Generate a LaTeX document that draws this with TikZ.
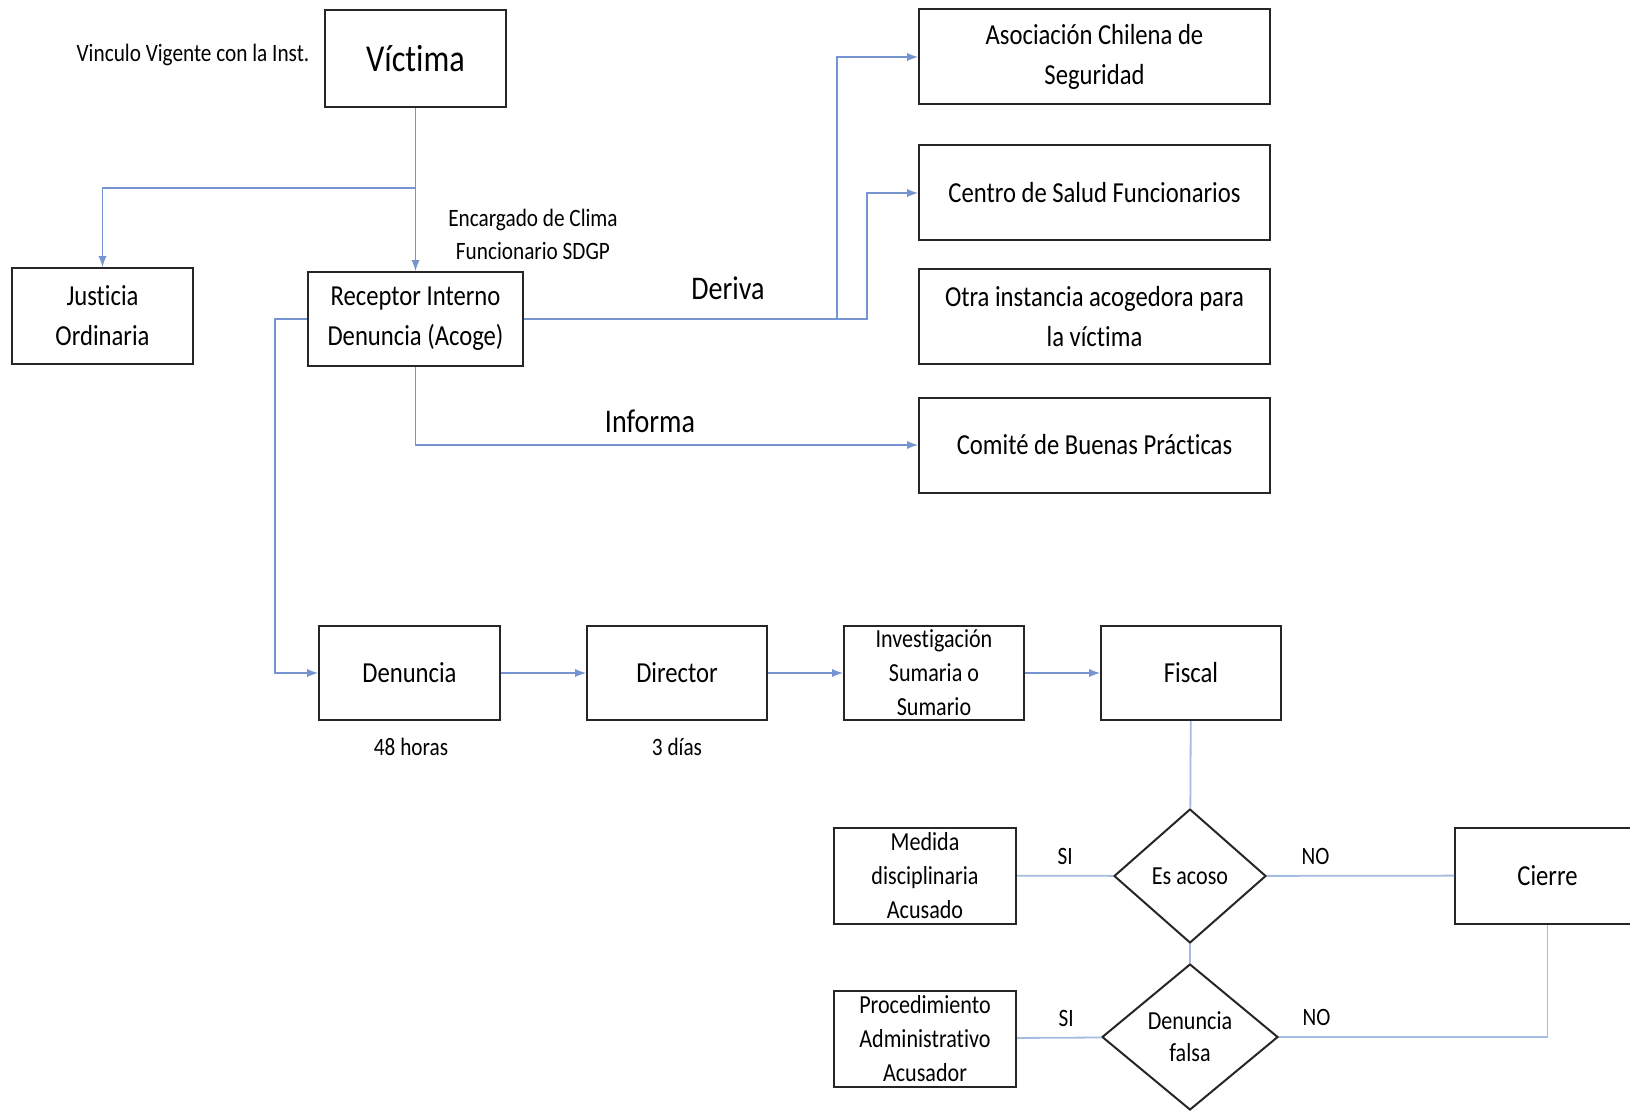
\documentclass[tikz,border=0pt]{standalone}
\usepackage{fontspec}
\setmainfont{Carlito}[FakeStretch=0.85, Ligatures=NoCommon]
\usetikzlibrary{arrows,shapes.geometric}
\definecolor{flujo}{RGB}{118,148,208}
\definecolor{flujoclaro}{RGB}{165,188,226}

\begin{document}
\begin{tikzpicture}[x=0.5pt, y=-0.5pt,
	caja/.style={draw=black!85, line width=1pt, align=center, inner sep=0pt, font=\fontsize{14.5}{20}\selectfont},
	chica/.style={caja, minimum width=91pt, minimum height=48pt, font=\fontsize{13}{17}\selectfont},
	ancha/.style={caja, minimum width=175.5pt, minimum height=47.5pt},
	rombo/.style={diamond, draw=black!85, line width=1pt, align=center, inner sep=0pt, font=\fontsize{13}{16}\selectfont},
	flecha/.style={draw=flujo, line width=0.9pt, -latex},
	linea/.style={draw=flujoclaro, line width=0.9pt},
	etiqueta/.style={font=\fontsize{12.5}{16.5}\selectfont, inner sep=1pt}]
	\clip (0,0) rectangle (1630,1113);
	% parte superior
	\node [caja, minimum width=90.5pt, minimum height=48.5pt, font=\fontsize{19}{22}\selectfont] (victima) at (415.5,58.5) {Víctima};
	\node [etiqueta] (vinculo) at (193,55) {Vinculo Vigente con la Inst.};
	\node [caja, minimum width=90.5pt, minimum height=48pt] (justicia) at (102.5,316) {Justicia\\Ordinaria};
	\node [caja, minimum width=107.5pt, minimum height=47pt] (receptor) at (415.5,319) {Receptor Interno\\Denuncia (Acoge)};
	\node [etiqueta, align=center] (encargado) at (533,234) {Encargado de Clima\\Funcionario SDGP};
	\node [ancha] (asociacion) at (1094.5,57) {Asociación Chilena de\\Seguridad};
	\node [ancha] (centro) at (1094.5,193) {Centro de Salud Funcionarios};
	\node [ancha] (otra) at (1094.5,316.5) {Otra instancia acogedora para\\la víctima};
	\node [ancha] (comite) at (1094.5,445) {Comité de Buenas Prácticas};
	\node [font=\fontsize{16.5}{20}\selectfont] (deriva) at (728,288) {Deriva};
	\node [font=\fontsize{16.5}{20}\selectfont] (informa) at (650,421) {Informa};
	% fila del sumario
	\node [caja, minimum width=90.5pt, minimum height=47pt] (denuncia) at (409.5,673) {Denuncia};
	\node [caja, minimum width=90pt, minimum height=47pt] (director) at (677,673) {Director};
	\node [caja, minimum width=90pt, minimum height=47pt, font=\fontsize{13}{17}\selectfont] (investigacion) at (934,673) {Investigación\\Sumaria o\\Sumario};
	\node [caja, minimum width=90pt, minimum height=47pt] (fiscal) at (1191,673) {Fiscal};
	\node [etiqueta] (horas) at (411,747) {48 horas};
	\node [etiqueta] (dias) at (677,747) {3 días};
	% decisiones
	\node [rombo, minimum width=76pt, minimum height=67pt] (acoso) at (1190,876) {Es acoso};
	\node [rombo, minimum width=88pt, minimum height=73pt] (falsa) at (1190,1037) {Denuncia\\falsa};
	\node [chica] (medida) at (925,875.5) {Medida\\disciplinaria\\Acusado};
	\node [chica] (procedimiento) at (925,1038.5) {Procedimiento\\Administrativo\\Acusador};
	\node [caja, minimum width=92.5pt, minimum height=48pt] (cierre) at (1547.5,875.5) {Cierre};
	% conectores
	\coordinate (rama) at (415.5,188);
	\coordinate (codo) at (867,319);
	\coordinate (rama2) at (837,319);
	\coordinate (izq) at (275,319);
	\draw [flecha] (victima) -- (receptor);
	\draw [flecha] (rama) -| (justicia.north);
	\draw [flecha] (receptor.east) -- (codo) |- (centro.west);
	\draw [flecha] (rama2) |- (asociacion.west);
	\draw [flecha] (receptor.south) |- (comite.west);
	\draw [flecha] (receptor.west) -- (izq) |- (denuncia.west);
	\draw [flecha] (denuncia) -- (director);
	\draw [flecha] (director) -- (investigacion);
	\draw [flecha] (investigacion) -- (fiscal);
	\draw [linea] (fiscal) -- (acoso);
	\draw [linea] (acoso) -- (falsa);
	\draw [linea] (medida) -- node [etiqueta, above=4pt] (si1) {SI} (acoso);
	\draw [linea] (acoso) -- node [etiqueta, pos=0.26, above=4pt] (no1) {NO} (cierre);
	\draw [linea] (procedimiento) -- node [etiqueta, pos=0.58, above=4pt] (si2) {SI} (falsa);
	\draw [linea] (falsa.east) -| node [etiqueta, pos=0.07, above=4pt] (no2) {NO} (cierre.south);
\end{tikzpicture}
\end{document}
